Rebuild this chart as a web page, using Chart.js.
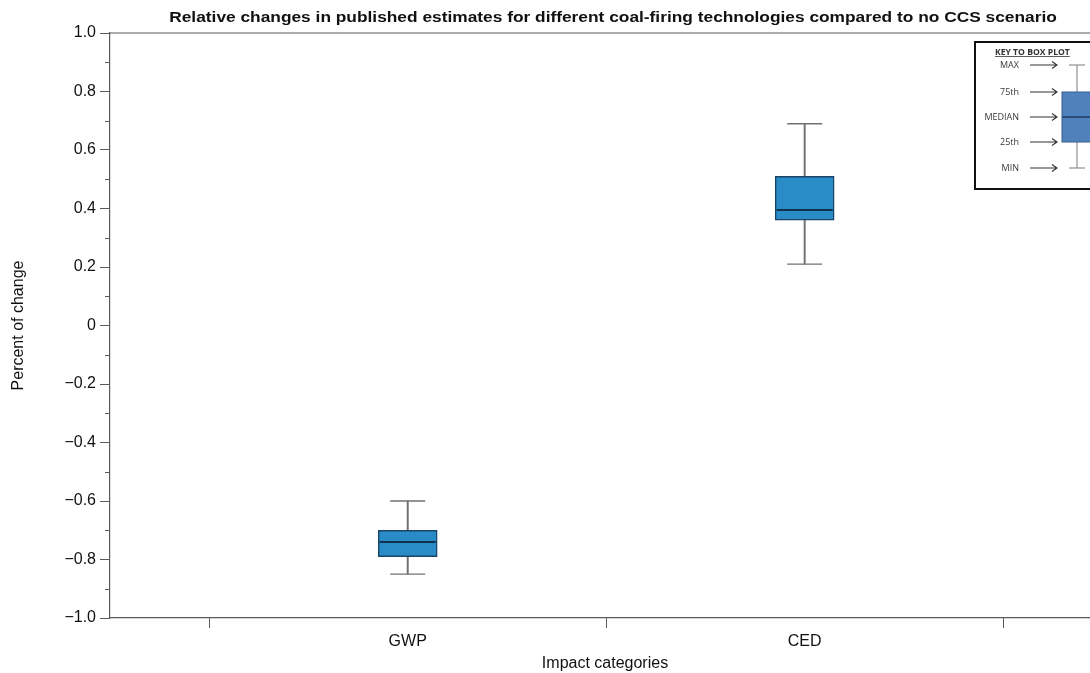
<!DOCTYPE html>
<html>
<head>
<meta charset="utf-8">
<script src="https://cdn.jsdelivr.net/npm/chart.js@4/dist/chart.umd.min.js"></script>
<style>
  html, body { margin: 0; padding: 0; background: #fff; overflow: hidden; }
  #wrap { width: 1100px; height: 673px; }
</style>
</head>
<body>
<div id="wrap"><canvas id="c" width="1100" height="673"></canvas></div>
<script>
// Impact categories and box-plot statistics (fraction of change vs. no-CCS case)
const categories = ['GWP', 'CED'];
const minVals    = [-0.85, 0.21];
const q1Vals     = [-0.79, 0.36];
const medianVals = [-0.74, 0.395];
const q3Vals     = [-0.70, 0.51];
const maxVals    = [-0.60, 0.69];

// Axis ticks
const yTickValues = [-1.0, -0.8, -0.6, -0.4, -0.2, 0, 0.2, 0.4, 0.6, 0.8, 1.0];
const xTickValues = [0.5, 1, 1.5, 2, 2.5];

const titleText = 'Relative changes in published estimates for different coal-firing technologies compared to no CCS scenario';
const keyLabels = ['MAX', '75th', 'MEDIAN', '25th', 'MIN'];

const FONT = '"Liberation Sans", Arial, Helvetica, sans-serif';
const BOX_FILL = '#2a8cc6';
const BOX_EDGE = '#1b4466';
const WHISKER = '#707070';
const AXIS = '#5a5a5a';

const pos = categories.map((_, i) => i + 1);

const boxData     = pos.map((x, i) => ({ x, y: [q1Vals[i], q3Vals[i]] }));
const whiskerData = pos.map((x, i) => ({ x, y: [minVals[i], maxVals[i]] }));
const capData     = pos.flatMap((x, i) => [{ x, y: minVals[i] }, { x, y: maxVals[i] }]);
const medianData  = pos.map((x, i) => ({ x, y: medianVals[i] }));

function fmt(v) {
  if (Math.abs(v) < 1e-9) return '0';
  return v.toFixed(1).replace('-', '\u2212');
}

// Frame line along the top, minor y ticks, chart title and the box-plot key
const decorations = {
  id: 'decorations',
  afterDraw(chart) {
    const { ctx, chartArea: a, scales } = chart;
    const y = scales.y;
    ctx.save();

    // top frame line
    ctx.strokeStyle = AXIS;
    ctx.lineWidth = 1.2;
    ctx.beginPath();
    ctx.moveTo(a.left, a.top);
    ctx.lineTo(a.right, a.top);
    ctx.stroke();

    // minor ticks halfway between the labelled ones
    ctx.lineWidth = 1;
    for (let i = 0; i < yTickValues.length - 1; i++) {
      const v = (yTickValues[i] + yTickValues[i + 1]) / 2;
      const py = Math.round(y.getPixelForValue(v)) + 0.5;
      ctx.beginPath();
      ctx.moveTo(a.left - 5, py);
      ctx.lineTo(a.left, py);
      ctx.stroke();
    }

    // title (set slightly wide)
    ctx.save();
    ctx.fillStyle = '#111';
    ctx.font = 'bold 15px ' + FONT;
    ctx.textAlign = 'center';
    ctx.textBaseline = 'middle';
    ctx.translate((a.left + a.right) / 2 + 8, a.top - 15);
    ctx.scale(1.155, 1);
    ctx.fillText(titleText, 0, 0);
    ctx.restore();

    // key to box plot
    const kx = a.right - 125, ky = a.top + 9;
    ctx.fillStyle = '#fff';
    ctx.fillRect(kx, ky, 124, 147);
    ctx.strokeStyle = '#111';
    ctx.lineWidth = 2;
    ctx.strokeRect(kx, ky, 124, 147);

    ctx.fillStyle = '#333';
    ctx.font = 'bold 8.6px "Open Sans", sans-serif';
    ctx.textAlign = 'left';
    ctx.textBaseline = 'alphabetic';
    const hx = kx + 20, hy = ky + 13;
    ctx.fillText('KEY TO BOX PLOT', hx, hy);
    const hw = ctx.measureText('KEY TO BOX PLOT').width;
    ctx.lineWidth = 0.8;
    ctx.strokeStyle = '#333';
    ctx.beginPath();
    ctx.moveTo(hx, hy + 1.5);
    ctx.lineTo(hx + hw, hy + 1.5);
    ctx.stroke();

    const rows = [ky + 23, ky + 50, ky + 75, ky + 100, ky + 126];
    ctx.font = '9px "Open Sans", sans-serif';
    ctx.textAlign = 'right';
    ctx.textBaseline = 'middle';
    ctx.lineWidth = 1.1;
    rows.forEach((ry, i) => {
      ctx.fillStyle = '#3a3a3a';
      ctx.fillText(keyLabels[i], kx + 44, ry);
      const x0 = kx + 55, x1 = kx + 82;
      ctx.beginPath();
      ctx.moveTo(x0, ry);
      ctx.lineTo(x1, ry);
      ctx.moveTo(x1 - 5, ry - 3.5);
      ctx.lineTo(x1, ry);
      ctx.lineTo(x1 - 5, ry + 3.5);
      ctx.stroke();
    });

    const cx = kx + 102;
    ctx.strokeStyle = '#7a7a7a';
    ctx.lineWidth = 1;
    ctx.beginPath();
    ctx.moveTo(cx, rows[0]); ctx.lineTo(cx, rows[4]);
    ctx.moveTo(cx - 8, rows[0]); ctx.lineTo(cx + 8, rows[0]);
    ctx.moveTo(cx - 8, rows[4]); ctx.lineTo(cx + 8, rows[4]);
    ctx.stroke();
    ctx.fillStyle = '#4f81bd';
    ctx.fillRect(cx - 15, rows[1], 31, rows[3] - rows[1]);
    ctx.strokeStyle = '#3a5f8c';
    ctx.strokeRect(cx - 15, rows[1], 31, rows[3] - rows[1]);
    ctx.strokeStyle = '#17304f';
    ctx.lineWidth = 1.3;
    ctx.beginPath();
    ctx.moveTo(cx - 15, rows[2]); ctx.lineTo(cx + 16, rows[2]);
    ctx.stroke();

    ctx.restore();
  }
};

new Chart(document.getElementById('c'), {
  type: 'bar',
  data: {
    datasets: [
      {
        label: 'range',
        data: whiskerData,
        backgroundColor: WHISKER,
        borderWidth: 0,
        barThickness: 1.3,
        grouped: false,
        order: 3
      },
      {
        label: 'interquartile',
        data: boxData,
        backgroundColor: BOX_FILL,
        borderColor: BOX_EDGE,
        borderWidth: 1.5,
        borderSkipped: false,
        barThickness: 59,
        grouped: false,
        order: 2
      },
      {
        type: 'scatter',
        label: 'caps',
        data: capData,
        pointStyle: 'line',
        pointRadius: 17.5,
        pointHoverRadius: 17.5,
        borderColor: WHISKER,
        borderWidth: 1.4,
        order: 1
      },
      {
        type: 'scatter',
        label: 'median',
        data: medianData,
        pointStyle: 'line',
        pointRadius: 28,
        pointHoverRadius: 28,
        borderColor: '#10314d',
        borderWidth: 2,
        order: 0
      }
    ]
  },
  options: {
    responsive: false,
    animation: false,
    events: [],
    layout: { autoPadding: false, padding: { top: 33, left: 0, right: 0, bottom: 0 } },
    plugins: {
      legend: { display: false },
      title: { display: false },
      tooltip: { enabled: false }
    },
    scales: {
      x: {
        type: 'linear',
        offset: false,
        min: 0.25,
        max: 2.744,
        afterBuildTicks(scale) { scale.ticks = xTickValues.map(v => ({ value: v })); },
        afterFit(scale) { scale.height = 55; scale.paddingLeft = 0; scale.paddingRight = 0; },
        grid: {
          offset: false,
          drawOnChartArea: false,
          tickLength: 10,
          tickWidth: 1,
          tickColor: ctx => (ctx.tick && Number.isInteger(ctx.tick.value)) ? 'rgba(0,0,0,0)' : AXIS
        },
        border: { display: true, color: AXIS, width: 1.2 },
        ticks: {
          autoSkip: false,
          maxRotation: 0,
          padding: 4,
          color: '#111',
          font: { family: FONT, size: 16 },
          callback: v => Number.isInteger(v) ? (categories[v - 1] || '') : ''
        },
        title: {
          display: true,
          text: 'Impact categories',
          color: '#111',
          font: { family: FONT, size: 16 },
          padding: { top: 0, bottom: 0 }
        }
      },
      y: {
        type: 'linear',
        min: -1,
        max: 1,
        afterBuildTicks(scale) { scale.ticks = yTickValues.map(v => ({ value: v })); },
        afterFit(scale) { scale.width = 110; },
        grid: {
          drawOnChartArea: false,
          tickLength: 10,
          tickWidth: 1,
          tickColor: AXIS
        },
        border: { display: true, color: AXIS, width: 1.2 },
        ticks: {
          padding: 4,
          color: '#111',
          font: { family: FONT, size: 16 },
          callback: v => fmt(v)
        },
        title: {
          display: true,
          text: 'Percent of change',
          color: '#111',
          font: { family: FONT, size: 16 },
          padding: { top: 9, bottom: 0 }
        }
      }
    }
  },
  plugins: [decorations]
});
</script>
</body>
</html>
